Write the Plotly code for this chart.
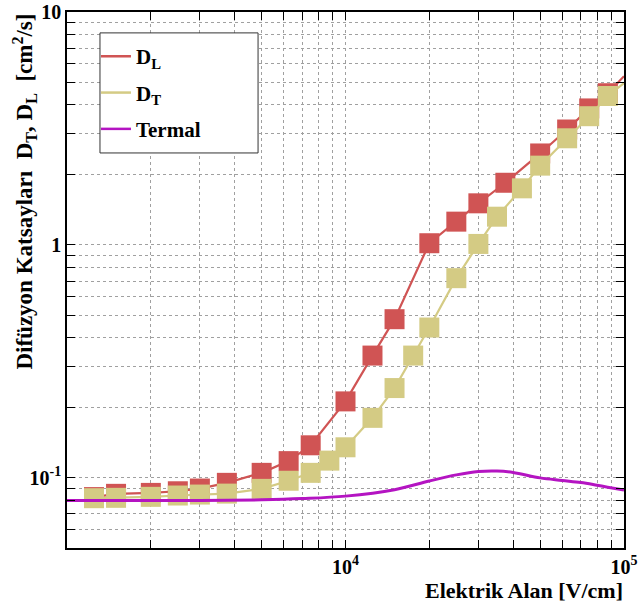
import plotly.graph_objects as go
import numpy as np

# ---- data ----
dl_x = [1250, 1500, 2000, 2500, 3000, 3750, 5000, 6250, 7500, 10000, 12500, 15000,
        20000, 25000, 30000, 37500, 50000, 62500, 75000, 87500, 100000]
dl_y = [0.0827, 0.0854, 0.0862, 0.0876, 0.0900, 0.0952, 0.1051, 0.118, 0.138, 0.213,
        0.335, 0.480, 1.017, 1.259, 1.509, 1.849, 2.47, 3.13, 3.855, 4.48, 5.3]
dl_marker_x = dl_x[:-1]
dl_marker_y = dl_y[:-1]

dt_x = [1250, 1500, 2000, 2500, 3000, 3750, 5000, 6250, 7500, 8750, 10000, 12500, 15000,
        17500, 20000, 25000, 30000, 35000, 43000, 50000, 62500, 75000, 87500, 100000]
dt_y = [0.0818, 0.0821, 0.0829, 0.0840, 0.0848, 0.0856, 0.0897, 0.0972, 0.1051, 0.1186,
        0.1353, 0.181, 0.243, 0.335, 0.442, 0.720, 1.01, 1.322, 1.75, 2.19, 2.87, 3.57,
        4.36, 4.95]
dt_marker_x = dt_x[:-1]
dt_marker_y = dt_y[:-1]

th_x = [1000, 2000, 3000, 5000, 7000, 10000, 15000, 20000, 25000, 30000, 35000, 40000,
        50000, 60000, 70000, 80000, 100000]
th_y = [0.0800, 0.0800, 0.0800, 0.0805, 0.0815, 0.0835, 0.0890, 0.0970, 0.1030, 0.1065,
        0.1070, 0.1055, 0.1000, 0.0975, 0.0955, 0.0930, 0.0886]

x_tickvals = [m * 10 ** e for e in (3, 4) for m in range(1, 10)] + [100000]
x_labels = {10000: "10<sup>4</sup>", 100000: "10<sup>5</sup>"}
x_ticktext = [x_labels.get(v, "") for v in x_tickvals]
y_tickvals = [m * 10.0 ** e for e in (-2, -1, 0) for m in range(1, 10)] + [10]
y_labels = {0.1: "10<sup>-1</sup>", 1.0: "1", 10.0: "10"}
y_ticktext = [y_labels.get(round(v, 6), "") for v in y_tickvals]

RED = "#d05454"
YEL = "#d4cb84"
MAG = "#b414c2"
SERIF = "Liberation Serif"

fig = go.Figure()
fig.add_trace(go.Scatter(x=dl_x, y=dl_y, mode="lines", line=dict(color=RED, width=2.2),
                         showlegend=False, hoverinfo="skip"))
fig.add_trace(go.Scatter(x=dl_marker_x, y=dl_marker_y, mode="markers",
                         marker=dict(symbol="square", size=20, color=RED, line=dict(width=0)),
                         showlegend=False))
fig.add_trace(go.Scatter(x=dt_x, y=dt_y, mode="lines", line=dict(color=YEL, width=2.2),
                         showlegend=False, hoverinfo="skip"))
fig.add_trace(go.Scatter(x=dt_marker_x, y=dt_marker_y, mode="markers",
                         marker=dict(symbol="square", size=20, color=YEL, line=dict(width=0)),
                         showlegend=False))
fig.add_trace(go.Scatter(x=th_x, y=th_y, mode="lines", line=dict(color=MAG, width=3, shape="spline"),
                         showlegend=False))

# legend entries (lines only, as in the reference)
for name, col, grp in [("D<sub>L</sub>", RED, "a"), ("D<sub>T</sub>", YEL, "b"), ("Termal", MAG, "c")]:
    fig.add_trace(go.Scatter(x=[None], y=[None], mode="lines", name=name, legendgroup=grp,
                             line=dict(color=col, width=2.5)))

axis_common = dict(
    type="log", showline=True, linecolor="black", linewidth=1.5, mirror="ticks",
    ticks="inside", ticklen=8, tickcolor="black", tickwidth=1,
    showgrid=True, gridcolor="#a0a0a0", gridwidth=1, griddash="dot",
    zeroline=False, automargin=False,
    tickfont=dict(family=SERIF, size=20, color="black", weight="bold"),
)
fig.update_xaxes(range=[3, 5], tickmode="array", tickvals=x_tickvals, ticktext=x_ticktext, **axis_common)
fig.update_yaxes(range=[np.log10(0.05), 1], tickmode="array", tickvals=y_tickvals, ticktext=y_ticktext,
                 **axis_common)

fig.update_layout(
    width=640, height=602,
    margin=dict(l=67, r=16, t=12, b=54, autoexpand=False),
    paper_bgcolor="white", plot_bgcolor="white",
    legend=dict(x=0.052, y=0.955, xanchor="left", yanchor="top",
                bgcolor="rgba(0,0,0,0)", borderwidth=0,
                font=dict(family=SERIF, size=21, color="black", weight="bold"),
                tracegroupgap=6, itemwidth=30),
    shapes=[dict(type="rect", xref="paper", yref="paper", x0=0.0592, x1=0.343, y0=0.737, y1=0.961,
                 line=dict(color="#333", width=1), fillcolor="white", layer="above")],
    annotations=[
        dict(text="Difüzyon Katsayları  D<sub>T</sub>, D<sub>L</sub>  [cm<sup>2</sup>/s]",
             xref="paper", yref="paper", x=-0.078, y=1.0, xanchor="center", yanchor="top",
             textangle=-90, showarrow=False,
             font=dict(family=SERIF, size=23, color="black", weight="bold")),
        dict(text="Elektrik Alan [V/cm]", xref="paper", yref="paper", x=1.002, y=-0.052,
             xanchor="right", yanchor="top", showarrow=False,
             font=dict(family=SERIF, size=22, color="black", weight="bold")),
    ],
)

fig.write_html("out.html", config={"displayModeBar": False},
               post_script="document.body.style.margin='0';document.body.style.overflow='hidden';")
